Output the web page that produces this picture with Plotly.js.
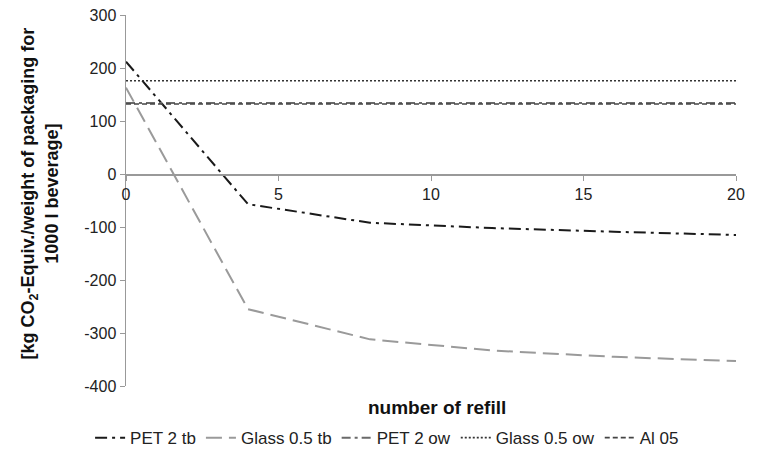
<!DOCTYPE html>
<html>
<head>
<meta charset="utf-8">
<script src="https://cdn.plot.ly/plotly-3.0.1.min.js"></script>
<style>html,body{margin:0;padding:0;background:#fff;}#chart{width:759px;height:454px;}</style>
</head>
<body>
<div id="chart"></div>
<script>
// Data
const refills = [0, 4, 8, 12, 16, 20];
const pet2tb = [212, -57, -92, -102, -109, -115];
const glass05tb = [163, -255, -312, -333, -345, -353];
const refillsFlat = [0, 20];
const pet2ow = [134, 134];
const glass05ow = [176, 176];
const al05 = [132, 132];
const seriesNames = ["PET 2 tb", "Glass 0.5 tb", "PET 2 ow", "Glass 0.5 ow", "Al 05"];
const xTicks = [0, 5, 10, 15, 20];
const yTicks = [-400, -300, -200, -100, 0, 100, 200, 300];

const font = "Liberation Sans, Arial, sans-serif";
const traces = [
  {x: refills, y: pet2tb, name: seriesNames[0], mode: "lines",
   line: {color: "#1a1a1a", width: 2, dash: "12px,5px,3px,5px"}},
  {x: refills, y: glass05tb, name: seriesNames[1], mode: "lines",
   line: {color: "#9a9a9a", width: 2, dash: "16px,7px"}},
  {x: refillsFlat, y: pet2ow, name: seriesNames[2], mode: "lines",
   line: {color: "#6a6a6a", width: 2, dash: "9px,4px,3px,4px"}},
  {x: refillsFlat, y: glass05ow, name: seriesNames[3], mode: "lines",
   line: {color: "#333333", width: 1.6, dash: "2px,2px"}},
  {x: refillsFlat, y: al05, name: seriesNames[4], mode: "lines",
   line: {color: "#444444", width: 1.6, dash: "5px,3px"}}
];

const layout = {
  width: 759, height: 454,
  margin: {l: 126, r: 23, t: 15, b: 68},
  paper_bgcolor: "#fff", plot_bgcolor: "#fff",
  font: {family: font, size: 16, color: "#222"},
  showlegend: true,
  legend: {orientation: "h", xref: "container", yref: "container",
           x: 0.51, xanchor: "center", y: 0.035, yanchor: "middle",
           font: {family: font, size: 17, color: "#222"}, tracegroupgap: 0,
           traceorder: "normal"},
  xaxis: {range: [0, 20], tickvals: xTicks, ticktext: xTicks.map(String),
          showgrid: false, zeroline: false, showline: true, linecolor: "#999", linewidth: 1.5,
          ticks: "outside", ticklen: 5, tickcolor: "#999",
          anchor: "free", position: 400/700,
          tickfont: {family: font, size: 16, color: "#222"}},
  yaxis: {range: [-400, 300], tickvals: yTicks, ticktext: yTicks.map(String),
          showgrid: false, zeroline: false, showline: true, linecolor: "#999", linewidth: 1.5,
          ticks: "outside", ticklen: 5, tickcolor: "#999",
          tickfont: {family: font, size: 16, color: "#222"}},
  annotations: [
    {text: "<b>number of refill</b>", xref: "paper", yref: "paper", x: 0.51, y: -0.058,
     xanchor: "center", yanchor: "middle", showarrow: false,
     font: {family: font, size: 19, color: "#111"}},
    {text: "<b>[kg CO<sub>2</sub>-Equiv./weight of packaging for<br>1000 l beverage]</b>",
     xref: "paper", yref: "paper", x: -0.142, y: 0.52, xanchor: "center", yanchor: "middle",
     textangle: -90, showarrow: false, align: "center",
     font: {family: font, size: 18, color: "#111"}}
  ]
};

Plotly.newPlot("chart", traces, layout, {staticPlot: true, displayModeBar: false});
</script>
</body>
</html>
